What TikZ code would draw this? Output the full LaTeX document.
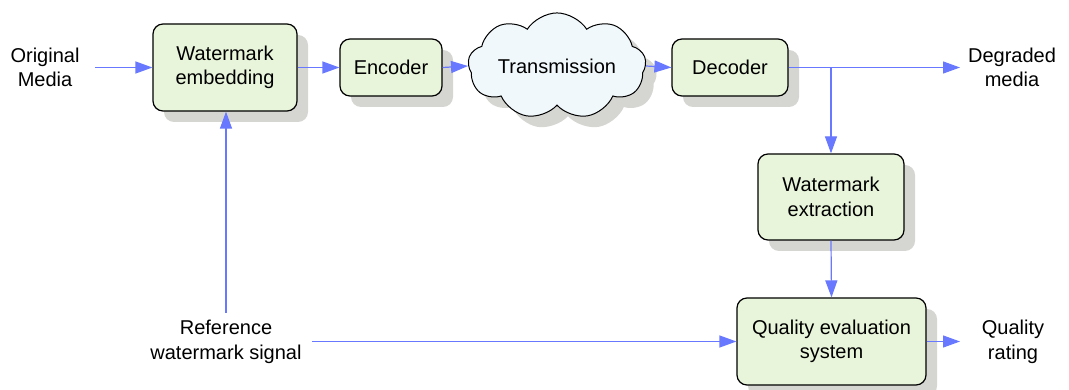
\documentclass[tikz,border=0pt]{standalone}
\usepackage{fontspec}
\setmainfont{Liberation Sans}
\usetikzlibrary{shapes.symbols,shadows,arrows.meta}
\definecolor{boxfill}{RGB}{232,245,218}
\definecolor{cloudfill}{RGB}{240,248,251}
\definecolor{shade}{RGB}{213,214,210}
\definecolor{flow}{RGB}{104,120,255}
\tikzset{
  txt/.style={font=\fontsize{20}{24.5}\selectfont, align=center, inner sep=0pt},
  shd/.style={drop shadow={shadow xshift=11pt, shadow yshift=-11pt, fill=shade, opacity=1}},
  block/.style={txt, draw=black, line width=1.2pt, fill=boxfill, rounded corners=10pt, shd},
  arr/.style={draw=flow, line width=1.2pt, -{Triangle[length=17pt,width=12pt]}},
}
\begin{document}
\begin{tikzpicture}[x=1pt,y=-1pt]
\useasboundingbox (0,0) rectangle (1069,390);

% processing blocks
\node[block, minimum width=144pt, minimum height=87pt] (emb) at (225,67.5) {Watermark\\embedding};
\node[block, minimum width=102pt, minimum height=57pt] (enc) at (391,67.5) {Encoder};
\node[txt, cloud, cloud puffs=9, cloud puff arc=115, aspect=2.1, draw=black, line width=1pt,
      fill=cloudfill, shd, minimum width=178pt, minimum height=88pt] (tx) at (557,66) {Transmission};
\node[block, minimum width=116pt, minimum height=57pt] (dec) at (730,67.5) {Decoder};
\node[block, minimum width=146pt, minimum height=86pt] (ext) at (831,197) {Watermark\\extraction};
\node[block, minimum width=189pt, minimum height=87pt] (qes) at (831.5,341.5) {Quality evaluation\\system};

% free labels
\node[txt] (orig) at (45,67.5) {Original\\Media};
\node[txt] (degr) at (1012,67.5) {Degraded\\media};
\node[txt] (ref) at (226,342) {Reference\\watermark signal};
\node[txt] (rate) at (1013,342) {Quality\\rating};

% flow connectors
\coordinate (origend) at (95,67.5);
\coordinate (degrend) at (960,67.5);
\coordinate (rateend) at (960,341.5);
\coordinate (refup) at (226,313);
\coordinate (refright) at (312,341.5);

\draw[arr] (origend) -- (emb.west);
\draw[arr] (emb.east) -- (enc.west);
\draw[arr] (enc.east) -- (tx.west);
\draw[arr] (tx.east) -- (dec.west);
\draw[arr] (dec.east) -- (degrend);
\draw[arr] (dec.east -| ext.north) -- (ext.north);
\draw[arr] (ext.south) -- (qes.north);
\draw[arr] (refup) -- (emb.south -| refup);
\draw[arr] (refright) -- (qes.west);
\draw[arr] (qes.east) -- (rateend);
\end{tikzpicture}
\end{document}
